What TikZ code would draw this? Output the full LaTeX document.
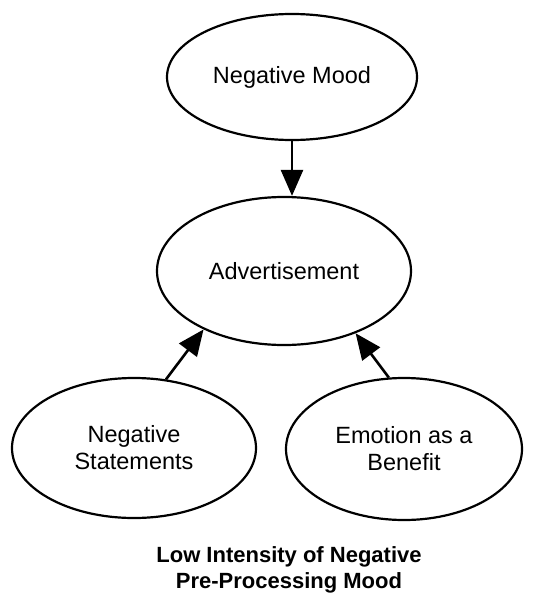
\documentclass[tikz,border=0pt]{standalone}
\usepackage{fontspec}
\setmainfont{Liberation Sans}
\usetikzlibrary{shapes.geometric,arrows.meta}
\begin{document}
\begin{tikzpicture}[x=1pt,y=-1pt,
  oval/.style={ellipse,draw,line width=2.2pt,inner sep=0pt,align=center,
    font=\fontsize{23.5}{27}\selectfont},
  link/.style={line width=2.6pt,-{Triangle[length=26pt,width=22pt]}}]
  \useasboundingbox (0,0) rectangle (539,597);
  % concept ellipses
  \node[oval,minimum width=250pt,minimum height=126pt] (mood) at (292,77) {Negative Mood};
  \node[oval,minimum width=254pt,minimum height=148pt] (ad) at (284,271) {Advertisement};
  \node[oval,minimum width=244pt,minimum height=140pt] (neg) at (134,448) {Negative\\Statements};
  \node[oval,minimum width=236pt,minimum height=142pt] (emo) at (404,449) {Emotion as a\\Benefit};
  % influences on the advertisement
  \draw[link] (mood.south) -- (mood.south |- ad.north);
  \draw[link] (neg.65) -- (ad.216);
  \draw[link] (emo.102) -- (ad.319);
  % caption
  \node[align=center,font=\bfseries\fontsize{22}{26}\selectfont] (cap) at (289,570)
    {Low Intensity of Negative\\Pre-Processing Mood};
\end{tikzpicture}
\end{document}
